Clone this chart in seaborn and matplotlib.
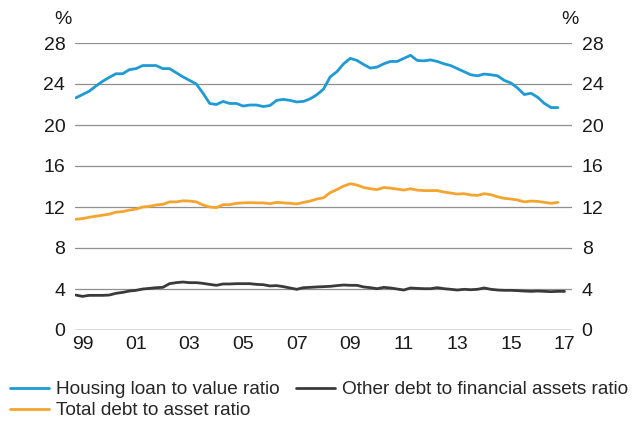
import numpy as np
import pandas as pd
import matplotlib
matplotlib.use("Agg")
import matplotlib.pyplot as plt
import seaborn as sns

# quarterly data, 1998Q4 onwards
housing_ltv = [22.65, 22.97, 23.3, 23.8, 24.26, 24.65, 25.0, 25.0, 25.4, 25.5,
               25.8, 25.8, 25.8, 25.5, 25.5, 25.1, 24.7, 24.35, 24.0, 23.1,
               22.1, 22.0, 22.3, 22.1, 22.1, 21.85, 21.95, 21.95, 21.8, 21.9,
               22.4, 22.5, 22.4, 22.25, 22.3, 22.55, 22.95, 23.5, 24.7, 25.2,
               25.97, 26.5, 26.3, 25.9, 25.55, 25.65, 25.97, 26.2, 26.2, 26.5,
               26.8, 26.3, 26.26, 26.35, 26.2, 25.97, 25.8, 25.5, 25.2, 24.9,
               24.8, 24.97, 24.9, 24.8, 24.35, 24.1, 23.6, 22.97, 23.1, 22.7,
               22.1, 21.7, 21.7]
total_debt = [10.8, 10.87, 11.0, 11.1, 11.2, 11.3, 11.5, 11.55, 11.7, 11.8,
              12.0, 12.06, 12.2, 12.26, 12.5, 12.5, 12.6, 12.58, 12.5, 12.2,
              12.0, 11.94, 12.23, 12.23, 12.36, 12.4, 12.42, 12.4, 12.4, 12.32,
              12.45, 12.4, 12.36, 12.3, 12.45, 12.58, 12.78, 12.9, 13.4, 13.7,
              14.04, 14.27, 14.14, 13.9, 13.78, 13.7, 13.9, 13.84, 13.75, 13.65,
              13.78, 13.65, 13.6, 13.6, 13.6, 13.46, 13.36, 13.26, 13.3, 13.17,
              13.13, 13.3, 13.2, 13.0, 12.84, 12.78, 12.68, 12.5, 12.58, 12.55,
              12.45, 12.36, 12.45]
other_debt = [3.41, 3.28, 3.38, 3.38, 3.38, 3.41, 3.58, 3.67, 3.8, 3.87,
              4.0, 4.06, 4.13, 4.16, 4.52, 4.62, 4.68, 4.62, 4.62, 4.55,
              4.45, 4.36, 4.49, 4.49, 4.52, 4.52, 4.52, 4.45, 4.42, 4.3,
              4.33, 4.23, 4.1, 3.97, 4.13, 4.16, 4.2, 4.23, 4.26, 4.33,
              4.39, 4.36, 4.36, 4.2, 4.13, 4.03, 4.16, 4.1, 4.0, 3.9,
              4.1, 4.06, 4.03, 4.03, 4.13, 4.03, 3.97, 3.9, 3.97, 3.93,
              3.97, 4.1, 3.97, 3.9, 3.87, 3.87, 3.84, 3.8, 3.77, 3.8,
              3.77, 3.74, 3.77, 3.77]

names = ["Housing loan to value ratio", "Total debt to asset ratio",
         "Other debt to financial assets ratio"]
colors = ["#1e9ad6", "#f5a42e", "#3a3a3a"]
tick_years = [1999, 2001, 2003, 2005, 2007, 2009, 2011, 2013, 2015, 2017]
tick_labels = ["99", "01", "03", "05", "07", "09", "11", "13", "15", "17"]
y_ticks = [0, 4, 8, 12, 16, 20, 24, 28]


def to_years(n):
    q = pd.period_range("1998Q4", periods=n, freq="Q")
    return q.year + (q.quarter - 1) / 4.0


frames = []
for name, vals in zip(names, [housing_ltv, total_debt, other_debt]):
    frames.append(pd.DataFrame({"year": to_years(len(vals)), "value": vals, "series": name}))
df = pd.concat(frames, ignore_index=True)

sns.set_theme(style="white")
plt.rcParams["font.family"] = ["Liberation Sans", "DejaVu Sans"]
FS = 14

fig = plt.figure(figsize=(6.38, 4.26), dpi=100)
ax = fig.add_axes([75 / 638, 1 - 330 / 426, 497 / 638, 287 / 426])

sns.lineplot(data=df, x="year", y="value", hue="series", hue_order=names,
             palette=colors, linewidth=2.0, ax=ax, legend=False)

ax.set_xlim(1998.72, 2017.28)
ax.set_ylim(0, 28)
ax.set_yticks(y_ticks)
ax.set_xticks(tick_years)
ax.set_xticklabels(tick_labels)
ax.set_xlabel("")
ax.set_ylabel("")
for y in y_ticks[1:]:
    ax.axhline(y, color="#8f8f8f", lw=0.9, zorder=0)
ax.axhline(0, color="#4a4a4a", lw=1.0, zorder=0)
for s in ax.spines.values():
    s.set_visible(False)

ax.tick_params(axis="y", length=0, pad=7, labelsize=FS, labelcolor="#1a1a1a",
               labelright=True)
ax.tick_params(axis="x", length=0, pad=4, labelsize=FS, labelcolor="#1a1a1a")

fig.text(63 / 638, 1 - 19 / 426, "%", ha="center", va="center", fontsize=FS, color="#1a1a1a")
fig.text(570 / 638, 1 - 19 / 426, "%", ha="center", va="center", fontsize=FS, color="#1a1a1a")

handles = [plt.Line2D([], [], color=c, lw=2.0) for c in colors]
fig.legend(handles, names, loc="upper left", bbox_to_anchor=(10 / 638, 1 - 381 / 426),
           ncol=2, frameon=False, fontsize=13.7, handlelength=2.05, handletextpad=0.35,
           columnspacing=0.9, labelspacing=0.2, borderpad=0, borderaxespad=0)

fig.savefig("out.png", dpi=100)
